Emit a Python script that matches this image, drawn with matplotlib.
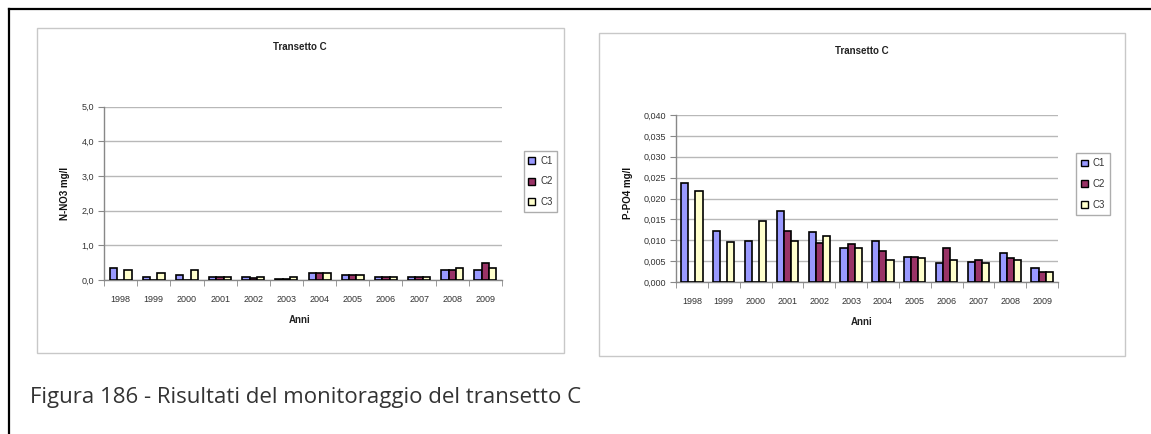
import numpy as np
import matplotlib
matplotlib.use("Agg")
import matplotlib.pyplot as plt
from matplotlib.patches import Rectangle
from matplotlib.lines import Line2D

plt.rcParams['font.family'] = ['Liberation Sans', 'DejaVu Sans']

years = ['1998', '1999', '2000', '2001', '2002', '2003',
         '2004', '2005', '2006', '2007', '2008', '2009']
series = ['C1', 'C2', 'C3']
colors = ['#9999FF', '#993366', '#FFFFCC']

# N-NO3 (left chart)
no3_c1 = [0.34, 0.09, 0.14, 0.09, 0.08, 0.04, 0.19, 0.14, 0.09, 0.09, 0.29, 0.29]
no3_c2 = [0.0, 0.0, 0.0, 0.09, 0.05, 0.04, 0.19, 0.14, 0.09, 0.09, 0.29, 0.49]
no3_c3 = [0.29, 0.19, 0.29, 0.09, 0.08, 0.08, 0.19, 0.14, 0.09, 0.09, 0.34, 0.34]

# P-PO4 (right chart)
po4_c1 = [0.0237, 0.0123, 0.0099, 0.0171, 0.0119, 0.0081, 0.0099, 0.0061, 0.0045, 0.0049, 0.0069, 0.0033]
po4_c2 = [0.0, 0.0, 0.0, 0.0123, 0.0093, 0.0090, 0.0074, 0.0061, 0.0081, 0.0053, 0.0057, 0.0024]
po4_c3 = [0.0219, 0.0095, 0.0147, 0.0099, 0.0109, 0.0081, 0.0053, 0.0057, 0.0053, 0.0045, 0.0053, 0.0024]

W, H = 1151, 434
fig = plt.figure(figsize=(W / 100, H / 100), dpi=100)


def box(x0, y0, x1, y1):
    # pixel box (top-left origin) -> figure fraction
    return [x0 / W, 1 - y1 / H, (x1 - x0) / W, (y1 - y0) / H]


def panel_frame(x0, y0, x1, y1):
    fig.patches.append(Rectangle((x0 / W, 1 - y1 / H), (x1 - x0) / W, (y1 - y0) / H,
                                 transform=fig.transFigure, fill=False,
                                 edgecolor='#c8c8c8', lw=1.0))


def draw_chart(rect, data, ymax, ystep, fmt, ylabel, title_xy, anni_xy, ylab_xy, leg_box):
    ax = fig.add_axes(box(*rect))
    x = np.arange(len(years))
    w = 1 / 4.5
    for i, vals in enumerate(data):
        ax.bar(x + (i - 1) * w, vals, width=w, color=colors[i],
               edgecolor='black', linewidth=1.2, zorder=3)
    ax.set_xlim(-0.5, len(years) - 0.5)
    ax.set_ylim(0, ymax)
    ticks = np.arange(0, ymax + ystep / 2, ystep)
    ax.set_yticks(ticks)
    ax.set_yticklabels([fmt.format(t).replace('.', ',') for t in ticks],
                       fontsize=6.5, color='#333333')
    ax.set_xticks(x)
    ax.set_xticklabels(years, fontsize=6.5, color='#333333')
    ax.set_xticks(np.arange(-0.5, len(years)), minor=True)
    ax.tick_params(axis='x', which='major', length=0, pad=11)
    ax.tick_params(axis='x', which='minor', length=4, direction='out', color='#888888')
    ax.tick_params(axis='y', length=4, direction='out', color='#888888', pad=3)
    ax.yaxis.grid(True, color='#b8b8b8', lw=1.0, zorder=0)
    for s in ['top', 'right']:
        ax.spines[s].set_visible(False)
    for s in ['left', 'bottom']:
        ax.spines[s].set_color('#888888')
        ax.spines[s].set_linewidth(1.0)
    fig.text(title_xy[0] / W, 1 - title_xy[1] / H, 'Transetto C', fontsize=7,
             fontweight='bold', ha='center', va='center', color='#222222')
    fig.text(anni_xy[0] / W, 1 - anni_xy[1] / H, 'Anni', fontsize=7,
             fontweight='bold', ha='center', va='center', color='#222222')
    fig.text(ylab_xy[0] / W, 1 - ylab_xy[1] / H, ylabel, fontsize=7,
             fontweight='bold', ha='center', va='center', rotation=90, color='#111111')
    handles = [Rectangle((0, 0), 1, 1, facecolor=c, edgecolor='black', lw=1.0) for c in colors]
    lx0, ly0, lx1, ly1 = leg_box
    leg = fig.legend(handles, series, loc='center',
                     bbox_to_anchor=((lx0 + lx1) / 2 / W, 1 - (ly0 + ly1) / 2 / H),
                     fontsize=7, frameon=True, fancybox=False, edgecolor='#999999',
                     handlelength=0.7, handleheight=0.7, handletextpad=0.5,
                     labelspacing=1.1, borderpad=0.5, borderaxespad=0)
    leg.get_frame().set_linewidth(1.0)
    for t in leg.get_texts():
        t.set_color('#333333')
    return ax


# outer frame of the page
fig.add_artist(Line2D([9 / W, 1], [1 - 9 / H, 1 - 9 / H], transform=fig.transFigure,
                      color='black', lw=1.6))
fig.add_artist(Line2D([9 / W, 9 / W], [0, 1 - 9 / H], transform=fig.transFigure,
                      color='black', lw=1.6))

panel_frame(37, 28, 564, 353)
panel_frame(599, 33, 1125, 356)

draw_chart((104, 106.7, 502, 280), [no3_c1, no3_c2, no3_c3], 5.0, 1.0, '{:.1f}',
           'N-NO3 mg/l', (300, 47), (300, 320), (65, 193), (524, 153, 557, 210))
draw_chart((676, 115, 1058, 282), [po4_c1, po4_c2, po4_c3], 0.040, 0.005, '{:.3f}',
           'P-PO4 mg/l', (862, 51), (862, 322), (628, 193), (1077, 156, 1109, 212))

fig.text(30 / W, 1 - 398 / H, 'Figura 186 - Risultati del monitoraggio del transetto C',
         fontsize=16, family=['Open Sans', 'DejaVu Sans'], color='#333333',
         ha='left', va='center')

fig.savefig('out.png', dpi=100, facecolor='white')
